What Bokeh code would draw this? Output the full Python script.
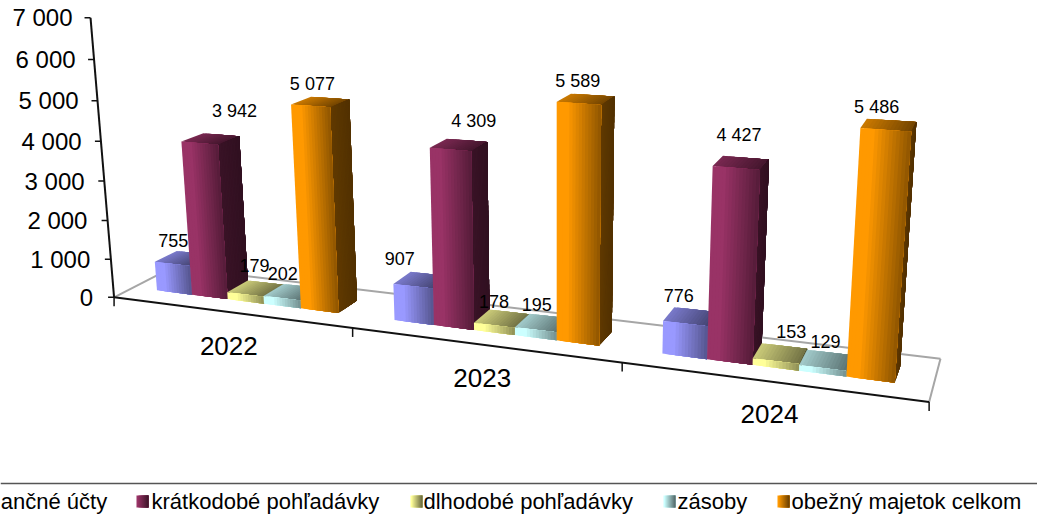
import numpy as np
from bokeh.plotting import figure
from bokeh.models import ColumnDataSource, Range1d
from bokeh.core.properties import value
from bokeh.embed import file_html
from bokeh.resources import INLINE

years = ["2022", "2023", "2024"]
series = ["finančné účty", "krátkodobé pohľadávky", "dlhodobé pohľadávky", "zásoby", "obežný majetok celkom"]
financne = [755, 907, 776]
kratkodobe = [3942, 4309, 4427]
dlhodobe = [179, 178, 153]
zasoby = [202, 195, 129]
obezny = [5077, 5589, 5486]
value_table = [financne, kratkodobe, dlhodobe, zasoby, obezny]
y_ticks = [0, 1000, 2000, 3000, 4000, 5000, 6000, 7000]
y_tick_labels = ["0", "1 000", "2 000", "3 000", "4 000", "5 000", "6 000", "7 000"]
series_rgb = [(153, 153, 255), (153, 51, 102), (255, 255, 153), (204, 255, 255), (255, 153, 0)]

# label nudges in px from the top of each bar
NUDGE = [[(-10, -18), (-22, -22), (-12, -21)],
         [(24, -28), (15, -24), (-2, -28)],
         [(-1, -23), (-8, -17), (11, -22)],
         [(-9, -19), (-6, -18), (-1, -19)],
         [(-8, -18), (-8, -18), (-12, -18)]]

# camera calibration: (category, depth, thousands) -> picture position
CAL_W = [(0, 0, 0), (1, 0, 0), (2, 0, 0), (3, 0, 0), (0, 1, 0), (3, 1, 0), (0, 0, 7), (3, 0, 7)]
CAL_P = [(113, 296), (353, 327), (622, 363), (928, 402), (172, 267), (940, 358), (90, 18), (953, 66)]
A = []
for (u, v, w), (x, y) in zip(CAL_W, CAL_P):
    x, y = x / 1000, y / 1000
    A.append([u, v, w, 1, 0, 0, 0, 0, -x * u, -x * v, -x * w, -x])
    A.append([0, 0, 0, 0, u, v, w, 1, -y * u, -y * v, -y * w, -y])
P = np.linalg.svd(np.array(A, float))[2][-1].reshape(3, 4)


def pr(u, v, val):
    q = P @ np.array([u, v, val / 1000, 1.0])
    return q[0] / q[2] * 1000, q[1] / q[2] * 1000


def col(rgb, f):
    return "#%02x%02x%02x" % tuple(int(min(255, c * f)) for c in rgb)


def front_f(t):
    return 1.0 if t < 0.25 else 1 - (t - 0.25) / 0.75 * 0.44


BAR0, BARW, V0, V1, N = 0.105, 0.155, 0.32, 0.70, 14
xs, ys, cs = [], [], []


def strips(a, b, c, d, rgb, ff):
    a, b, c, d = map(np.array, (a, b, c, d))
    for i in range(N):
        t0, t1 = i / N, (i + 1) / N
        p0 = a + (b - a) * t0
        p3 = d + (c - d) * t0
        xs.append([p0[0], b[0], c[0], p3[0]])
        ys.append([p0[1], b[1], c[1], p3[1]])
        cs.append(col(rgb, ff((t0 + t1) / 2)))


tops = {}
for g in range(3):
    for s in range(5):
        val = value_table[s][g]
        u0 = g + BAR0 + s * BARW
        u1 = u0 + BARW
        rgb = series_rgb[s]
        strips(pr(u0, V0, val), pr(u1, V0, val), pr(u1, V1, val), pr(u0, V1, val), rgb, lambda t: 0.8 - 0.35 * t)
        strips(pr(u1, V0, 0), pr(u1, V1, 0), pr(u1, V1, val), pr(u1, V0, val), rgb, lambda t: 0.38 - 0.06 * t)
        strips(pr(u0, V0, 0), pr(u1, V0, 0), pr(u1, V0, val), pr(u0, V0, val), rgb, front_f)
        tops[(s, g)] = pr((u0 + u1) / 2, (V0 + V1) / 2, val)

p = figure(width=1037, height=517, output_backend="svg", toolbar_location=None,
           x_range=Range1d(0, 1037), y_range=Range1d(517, 0), min_border=0,
           outline_line_color=None, background_fill_color="white")
p.xaxis.visible = False
p.yaxis.visible = False
p.grid.visible = False

# floor
GRAY = "#a6a6a6"
for a, b in [((0, 0), (0, 1)), ((0, 1), (3, 1)), ((3, 1), (3, 0))]:
    pa, pb = pr(*a, 0), pr(*b, 0)
    p.line([pa[0], pb[0]], [pa[1], pb[1]], line_color=GRAY, line_width=2)

p.patches("x", "y", source=ColumnDataSource(dict(x=xs, y=ys, c=cs)), fill_color="c", line_color=None)

# axes
for a, b in [((0, 0, 0), (0, 0, 7000)), ((0, 0, 0), (3, 0, 0))]:
    pa, pb = pr(*a), pr(*b)
    p.line([pa[0], pb[0]], [pa[1], pb[1]], line_color="#111111", line_width=2)
for t in y_ticks:
    x, y = pr(0, 0, t)
    p.line([x - 6, x], [y, y], line_color="#111111", line_width=1.5)
for g in range(4):
    x, y = pr(g, 0, 0)
    p.line([x, x], [y, y + 9], line_color="#111111", line_width=1.5)

FONT = value("Liberation Sans")
tp = [pr(0, 0, t) for t in y_ticks]
p.text([a[0] - 21 + 3 * t / 7000 for a, t in zip(tp, y_ticks)], [a[1] for a in tp], text=y_tick_labels,
       text_font=FONT, text_font_size="24px", text_align="right", text_baseline="middle", text_color="#000000")
cp = [pr(g + 0.5, 0, 0) for g in range(3)]
p.text([a[0] - 1 for a in cp], [a[1] + 34 - g for g, a in enumerate(cp)], text=years, text_font=FONT,
       text_font_size="26px", text_align="center", text_baseline="middle", text_color="#000000")

lx, ly, lt = [], [], []
for (s, g), (x, y) in tops.items():
    n = NUDGE[s][g]
    lx.append(x + n[0])
    ly.append(y + n[1])
    v = value_table[s][g]
    lt.append(f"{v:,}".replace(",", " "))
p.text(lx, ly, text=lt, text_font=FONT, text_font_size="18px", text_align="center", text_baseline="middle",
       text_color="#000000")

# legend
p.line([0, 1037], [483, 483], line_color="#555555", line_width=1.5)
LEG_X = [-23, 151, 423, 677, 791]
LEG_S = [None, 136, 410, 663, 777]
p.text(LEG_X, [501] * 5, text=series, text_font=FONT, text_font_size="22px", text_align="left",
       text_baseline="middle", text_color="#000000")
sx, sy, sc = [], [], []
for s in range(1, 5):
    for i in range(6):
        x0 = LEG_S[s] + i * 2
        sx.append([x0, LEG_S[s] + 12, LEG_S[s] + 12, x0])
        sy.append([495, 495, 507, 507])
        sc.append(col(series_rgb[s], 1 - 0.55 * i / 5))
p.patches("x", "y", source=ColumnDataSource(dict(x=sx, y=sy, c=sc)), fill_color="c", line_color=None)

open("out.html", "w").write(file_html(p, INLINE))
